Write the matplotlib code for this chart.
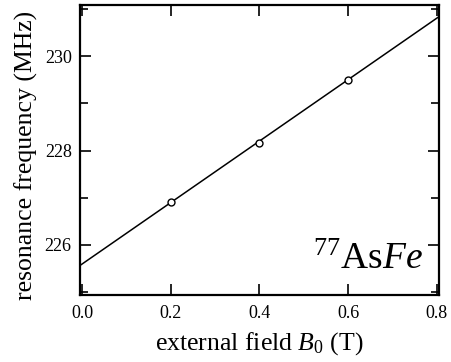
import numpy as np
import matplotlib
matplotlib.use("Agg")
import matplotlib.pyplot as plt
from matplotlib.ticker import MultipleLocator

plt.rcParams['font.family'] = ['Liberation Serif', 'DejaVu Serif']
plt.rcParams['mathtext.fontset'] = 'custom'
plt.rcParams['mathtext.rm'] = 'Liberation Serif'
plt.rcParams['mathtext.it'] = 'Liberation Serif:italic'

# measured points
field = [0.2, 0.4, 0.6]
freq = [226.90, 228.16, 229.49]

# linear fit line
fit_x = [-0.01, 0.81]
fit_slope = 6.5
fit_intercept = 225.6

fig = plt.figure(figsize=(4.51, 3.62), dpi=100)
ax = fig.add_axes([0.1774, 0.185, 0.7966, 0.801])

fit_y = [fit_intercept + fit_slope * x for x in fit_x]
ax.plot(fit_x, fit_y, color='black', lw=1.1)
ax.plot(field, freq, 'o', mfc='white', mec='black', ms=5, mew=1.0)

ax.set_xlim(-0.0052, 0.806)
ax.set_ylim(224.94, 231.08)
ax.xaxis.set_major_locator(MultipleLocator(0.2))
ax.yaxis.set_major_locator(MultipleLocator(2))
ax.yaxis.set_minor_locator(MultipleLocator(1))
ax.xaxis.set_major_formatter(plt.FormatStrFormatter('%.1f'))
ax.tick_params(which='both', direction='in', top=True, right=True, labelsize=13, width=1.2)
ax.tick_params(which='major', length=8)
ax.tick_params(which='minor', length=6)
ax.tick_params(axis='x', pad=7)
ax.tick_params(axis='y', pad=6)
for s in ax.spines.values():
    s.set_linewidth(1.6)

ax.set_xlabel(r'external field $\mathit{B}_0$ (T)', fontsize=18.5, labelpad=6)
ax.set_ylabel('resonance frequency (MHz)', fontsize=18.5)
ax.yaxis.set_label_coords(-0.117, 0.483)
ax.text(0.955, 0.09, r'$^{77}$As$\mathit{Fe}$', transform=ax.transAxes,
        ha='right', va='baseline', fontsize=27)

fig.savefig('out.png', dpi=100)
